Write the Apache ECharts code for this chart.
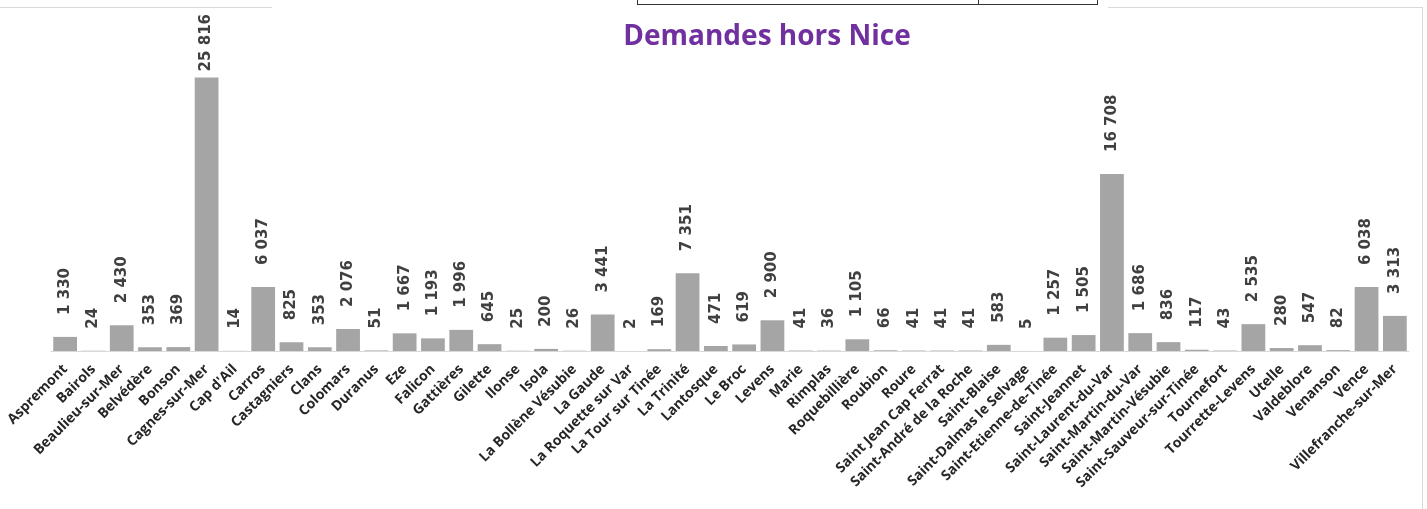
<!DOCTYPE html>
<html lang="fr">
<head>
  <meta charset="utf-8">
  <style>
    body { margin: 0; background: #fff; }
    #container { width: 1427px; height: 509px; }
  </style>
</head>
<body>
  <div id="container"></div>
  <script src="https://cdn.jsdelivr.net/npm/echarts@6/dist/echarts.min.js"></script>
  <script>
    // communes (hors Nice)
    var communes = [
      'Aspremont', 'Bairols', 'Beaulieu-sur-Mer', 'Belvédère', 'Bonson', 'Cagnes-sur-Mer',
      "Cap d'Ail", 'Carros', 'Castagniers', 'Clans', 'Colomars', 'Duranus', 'Eze', 'Falicon',
      'Gattières', 'Gilette', 'Ilonse', 'Isola', 'La Bollène Vésubie', 'La Gaude',
      'La Roquette sur Var', 'La Tour sur Tinée', 'La Trinité', 'Lantosque', 'Le Broc', 'Levens',
      'Marie', 'Rimplas', 'Roquebillière', 'Roubion', 'Roure', 'Saint Jean Cap Ferrat',
      'Saint-André de la Roche', 'Saint-Blaise', 'Saint-Dalmas le Selvage', 'Saint-Etienne-de-Tinée',
      'Saint-Jeannet', 'Saint-Laurent-du-Var', 'Saint-Martin-du-Var', 'Saint-Martin-Vésubie',
      'Saint-Sauveur-sur-Tinée', 'Tournefort', 'Tourrette-Levens', 'Utelle', 'Valdeblore',
      'Venanson', 'Vence', 'Villefranche-sur-Mer'
    ]
    var demandes = [
      1330, 24, 2430, 353, 369, 25816,
      14, 6037, 825, 353, 2076, 51, 1667, 1193,
      1996, 645, 25, 200, 26, 3441,
      2, 169, 7351, 471, 619, 2900,
      41, 36, 1105, 66, 41, 41,
      41, 583, 5, 1257,
      1505, 16708, 1686, 836,
      117, 43, 2535, 280, 547,
      82, 6038, 3313
    ]
    var titre = 'Demandes hors Nice'

    var labelGap = 22
    var labelTopLimit = 14
    var labelFont = 'bold 15px "DejaVu Sans"'

    // format "1 330" like the source sheet
    function fmt(v) {
      return String(v).replace(/\B(?=(\d{3})+(?!\d))/g, ' ')
    }

    var chart = echarts.init(document.getElementById('container'), null, { renderer: 'canvas' })

    var option = {
      backgroundColor: '#fff',
      animation: false,
      title: {
        text: titre,
        left: 762,
        top: 18,
        textAlign: 'center',
        textStyle: {
          fontFamily: 'Open Sans',
          fontWeight: 'bold',
          fontSize: 28,
          color: '#7030a0'
        }
      },
      grid: {
        left: 51,
        right: 18,
        top: 65,
        bottom: 158
      },
      xAxis: {
        type: 'category',
        data: communes,
        axisLine: { lineStyle: { color: '#d9d9d9', width: 1 } },
        axisTick: { show: false },
        axisLabel: {
          interval: 0,
          rotate: 45,
          margin: 16,
          fontFamily: 'Open Sans',
          fontWeight: 'bold',
          fontSize: 14,
          color: '#262626'
        }
      },
      yAxis: {
        type: 'value',
        min: 0,
        max: 27000,
        show: false,
        splitLine: { show: false }
      },
      series: [
        {
          type: 'bar',
          data: demandes,
          barCategoryGap: '16%',
          itemStyle: { color: '#a5a5a5' },
          label: {
            show: true,
            position: 'top',
            rotate: 90,
            align: 'left',
            verticalAlign: 'middle',
            distance: labelGap,
            fontFamily: 'DejaVu Sans',
            fontWeight: 'bold',
            fontSize: 15,
            color: '#404040',
            formatter: function (p) { return fmt(p.value) }
          }
        }
      ],
      graphic: [
        // bits of the surrounding sheet visible in the capture
        { type: 'line', shape: { x1: 0, y1: 7.5, x2: 272, y2: 7.5 }, style: { stroke: '#d9d9d9', lineWidth: 1 } },
        { type: 'line', shape: { x1: 1108, y1: 7.5, x2: 1422, y2: 7.5 }, style: { stroke: '#d9d9d9', lineWidth: 1 } },
        { type: 'line', shape: { x1: 1422.5, y1: 7, x2: 1422.5, y2: 509 }, style: { stroke: '#d9d9d9', lineWidth: 1 } },
        { type: 'line', shape: { x1: 637.5, y1: 0, x2: 637.5, y2: 4.5 }, style: { stroke: '#333', lineWidth: 1 } },
        { type: 'line', shape: { x1: 637, y1: 4.5, x2: 1098, y2: 4.5 }, style: { stroke: '#333', lineWidth: 1 } },
        { type: 'line', shape: { x1: 978.5, y1: 0, x2: 978.5, y2: 4.5 }, style: { stroke: '#333', lineWidth: 1 } },
        { type: 'line', shape: { x1: 1097.5, y1: 0, x2: 1097.5, y2: 4.5 }, style: { stroke: '#333', lineWidth: 1 } }
      ]
    }

    chart.setOption(option)

    // the spreadsheet pulls labels down when they would leave the chart area
    var ctx = document.createElement('canvas').getContext('2d')
    ctx.font = labelFont
    var items = demandes.map(function (v, i) {
      var py = chart.convertToPixel({ seriesIndex: 0 }, [i, v])[1]
      var len = ctx.measureText(fmt(v)).width
      var top = py - labelGap - len
      if (top < labelTopLimit) {
        return { value: v, label: { distance: Math.max(2, labelGap - (labelTopLimit - top)) } }
      }
      return v
    })
    chart.setOption({ series: [{ data: items }] })

    window.addEventListener('resize', chart.resize)
  </script>
</body>
</html>
